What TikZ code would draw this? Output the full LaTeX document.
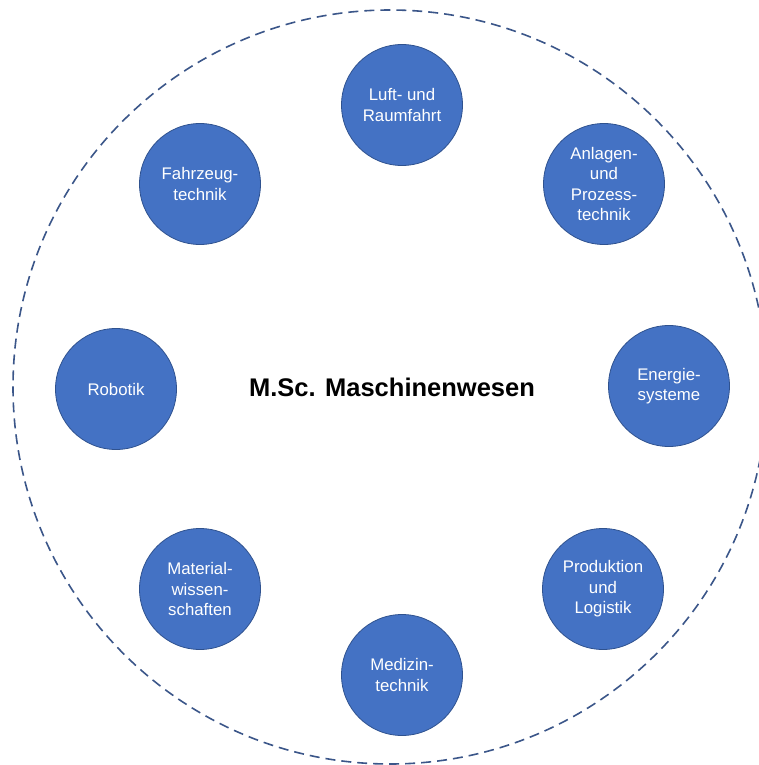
\documentclass[tikz,border=0pt]{standalone}
\usepackage{fontspec}
\setmainfont{Liberation Sans}
\usetikzlibrary{positioning}
\definecolor{fieldblue}{HTML}{4472C4}
\definecolor{fieldedge}{HTML}{2F528F}
\definecolor{ringcol}{HTML}{3B5689}
\tikzset{
  fieldnode/.style = {circle, draw=fieldedge, fill=fieldblue, text=white, align=center, minimum size=121pt, inner sep=0pt, line width=0.8pt, font=\fontsize{16.8}{20.5}\selectfont},
  hubtitle/.style = {align=center, font=\fontsize{25.5}{30}\selectfont\bfseries},
  ring/.style = {draw=ringcol, dash pattern=on 10pt off 6pt, line width=1.6pt}
}
\begin{document}
\begin{tikzpicture}[x=1pt, y=-1pt]
\useasboundingbox (0,0) rectangle (759,765);
\node [hubtitle] (hub) at (392,387) {M.Sc. Maschinenwesen};
\draw [ring] (390,387) circle (377pt);
\node [fieldnode] (luft) at (402,105) {Luft- und\\Raumfahrt};
\node [fieldnode] (anlagen) at (604,184) {Anlagen-\\und\\Prozess-\\technik};
\node [fieldnode] (energie) at (669,386) {Energie-\\systeme};
\node [fieldnode] (produktion) at (603,589) {Produktion\\und\\Logistik};
\node [fieldnode] (medizin) at (402,675) {Medizin-\\technik};
\node [fieldnode] (material) at (200,589) {Material-\\wissen-\\schaften};
\node [fieldnode] (robotik) at (116,389) {Robotik};
\node [fieldnode] (fahrzeug) at (200,184) {Fahrzeug-\\technik};
\end{tikzpicture}
\end{document}
